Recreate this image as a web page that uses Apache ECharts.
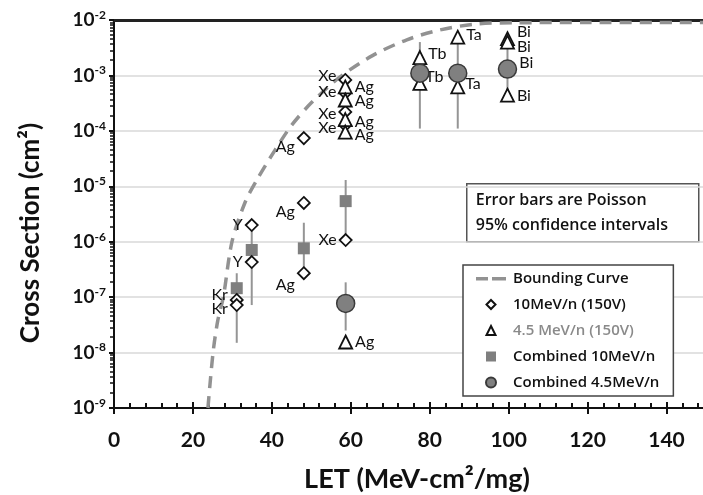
<!DOCTYPE html>
<html>
<head>
<meta charset="utf-8">
<script src="https://cdn.jsdelivr.net/npm/echarts@6/dist/echarts.min.js"></script>
<style>
  html, body { margin: 0; padding: 0; background: #fff; }
  #chart { width: 703px; height: 495px; }
</style>
</head>
<body>
<div id="chart"></div>
<script>
// Weibull-style bounding curve, [LET, cross section]
const boundingCurve = [
  [23.8, 1e-9], [25.1, 1e-8], [26.3, 3.8e-8], [27.7, 1e-7], [29.9, 1e-6],
  [33.2, 5.1e-6], [36.2, 1.3e-5], [40.8, 4.5e-5], [45.0, 1.26e-4], [50.0, 3.2e-4],
  [57.2, 9.3e-4], [65.6, 2.3e-3], [74.2, 4.4e-3], [82.5, 6.6e-3], [91.9, 8.5e-3],
  [102, 8.9e-3], [120, 9.0e-3], [150, 9.0e-3]
];

// 10 MeV/n runs at 150 V: [LET, cross section, ion]
const runs10 = [
  [31.1, 8.9e-8, 'Kr'], [31.1, 7.2e-8, 'Kr'],
  [34.9, 2.0e-6, 'Y'], [34.9, 4.3e-7, 'Y'],
  [48.1, 7.4e-5, 'Ag'], [48.1, 5.0e-6, 'Ag'], [48.1, 2.7e-7, 'Ag'],
  [58.6, 8.3e-4, 'Xe'], [58.6, 4.8e-4, 'Xe'], [58.6, 2.2e-4, 'Xe'], [58.6, 1.26e-4, 'Xe'],
  [58.7, 1.07e-6, 'Xe']
];

// 4.5 MeV/n runs at 150 V: [LET, cross section, ion]
const runs45 = [
  [58.6, 6.2e-4, 'Ag'], [58.6, 3.6e-4, 'Ag'], [58.6, 1.6e-4, 'Ag'], [58.6, 9.5e-5, 'Ag'],
  [58.7, 1.55e-8, 'Ag'],
  [77.5, 2.1e-3, 'Tb'], [77.5, 7.2e-4, 'Tb'],
  [87.1, 4.9e-3, 'Ta'], [87.1, 6.2e-4, 'Ta'],
  [99.7, 4.6e-3, 'Bi'], [99.7, 4.0e-3, 'Bi'], [99.7, 4.4e-4, 'Bi']
];

// Combined results: [LET, cross section, lower 95%, upper 95%]
const combined10 = [
  [31.1, 1.45e-7, 1.5e-8, 2.7e-7],
  [34.9, 7.1e-7, 7.2e-8, 2.0e-6],
  [48.1, 7.6e-7, 3.1e-7, 2.2e-6],
  [58.7, 5.4e-6, 1.2e-6, 1.3e-5]
];
const combined45 = [
  [58.7, 7.7e-8, 2.5e-8, 1.85e-7, ''],
  [77.5, 1.1e-3, 1.1e-4, 4.0e-3, ''],
  [87.1, 1.1e-3, 1.1e-4, 4.9e-3, ''],
  [99.7, 1.3e-3, 3.6e-4, 3.6e-3, 'Bi']
];

const xTicks = [0, 20, 40, 60, 80, 100, 120, 140];
const yExponents = [-9, -8, -7, -6, -5, -4, -3, -2];

const FONT = 'Lato';
const BOX_FONT = 'Open Sans';

// per-point label offsets [dx, dy]
const offs10 = [[0, -5], [0, 4], [0, 0], [0, 0], [0, 9], [0, 9], [0, 12],
                [0, -4], [0, -1], [0, 2], [0, 3], [0, 0]];
const offs45 = [[0, 0], [0, 1], [0, 2], [0, 3], [0, 0], [-1, -4], [-4, -6],
                [-1, -2], [-2, -3], [0, -7], [0, 5], [0, 1]];

function labelled(rows, offs, side) {
  return rows.map((r, i) => ({
    value: [r[0], r[1]],
    label: {
      show: !!r[r.length - 1], formatter: r[r.length - 1], position: side,
      distance: 2, offset: offs[i],
      fontFamily: FONT, fontSize: 16, color: '#111'
    }
  }));
}

function bars(rows) {
  return rows.map(r => [r[0], r[2], r[3]]);
}

const errorBar = {
  type: 'custom',
  renderItem: (params, api) => {
    const p1 = api.coord([api.value(0), api.value(2)]);
    const p2 = api.coord([api.value(0), api.value(1)]);
    return {
      type: 'line',
      shape: { x1: p1[0], y1: p1[1], x2: p2[0], y2: p2[1] },
      style: { stroke: '#959595', lineWidth: 2 }
    };
  },
  encode: { x: 0, y: [1, 2] },
  z: 1,
  silent: true
};

// legend glyphs: the leading moves pin every icon to a 34x12 box
const BOX = 'M0,0M34,12';
const legendIcons = {
  curve: 'path://' + BOX + 'M2,4.5h12v3.5h-12zM18,4.5h14v3.5h-14z',
  diamond: 'path://' + BOX + 'M17,1.5L21.5,6L17,10.5L12.5,6Z',
  triangle: 'path://' + BOX + 'M17,1.5L21.5,10.5L12.5,10.5Z',
  square: 'path://' + BOX + 'M12,1h10v10h-10z',
  circle: 'path://' + BOX + 'M12,6a5,5 0 1,0 10,0a5,5 0 1,0 -10,0Z'
};

const chart = echarts.init(document.getElementById('chart'), null, { renderer: 'canvas' });

const axisFont = { fontFamily: FONT, fontWeight: 'bold', color: '#111' };

chart.setOption({
  animation: false,
  textStyle: { fontFamily: FONT },
  grid: { left: 114, right: -3, top: 20, bottom: 87, containLabel: false, outerBoundsMode: 'none' },
  xAxis: [
    {
      type: 'value', min: 0, max: 150, interval: 20, position: 'bottom',
      name: 'LET (MeV-cm²/mg)', nameLocation: 'middle', nameGap: 58,
      nameTextStyle: Object.assign({ fontSize: 27, padding: [0, 0, 0, 14] }, axisFont),
      axisLine: { show: true, lineStyle: { color: '#111', width: 2 } },
      axisTick: { show: true, inside: true, length: 6, lineStyle: { color: '#111', width: 2 } },
      minorTick: { show: true, splitNumber: 5, length: 5, lineStyle: { color: '#111', width: 2 } },
      axisLabel: {
        fontSize: 21, margin: 22, color: '#111', fontFamily: FONT, fontWeight: 'bold',
        formatter: v => (xTicks.indexOf(v) >= 0 ? String(v) : '')
      },
      splitLine: { show: false }
    },
    {
      type: 'value', min: 0, max: 150, interval: 20, position: 'bottom',
      axisLine: { show: false },
      axisTick: { show: true, inside: false, length: 6, lineStyle: { color: '#111', width: 2 } },
      axisLabel: { show: false }, splitLine: { show: false }
    },
    {
      type: 'value', min: 0, max: 150, position: 'top',
      axisLine: { show: true, lineStyle: { color: '#222', width: 3 } },
      axisTick: { show: false }, axisLabel: { show: false }, splitLine: { show: false }
    }
  ],
  yAxis: [
    {
      type: 'log', logBase: 10, min: 1e-9, max: 1e-2, interval: 1,
      name: 'Cross Section (cm²)', nameLocation: 'middle', nameGap: 70,
      nameTextStyle: Object.assign({ fontSize: 26, padding: [0, 38, 0, 0] }, axisFont),
      axisLine: { show: true, lineStyle: { color: '#111', width: 2 } },
      axisTick: { show: true, inside: false, length: 5, lineStyle: { color: '#111', width: 2 } },
      axisLabel: {
        margin: 8,
        formatter: v => {
          const e = Math.round(Math.log10(v));
          return yExponents.indexOf(e) >= 0 ? '{b|10}{s|' + e + '}' : '';
        },
        rich: {
          b: { fontSize: 19, fontFamily: FONT, fontWeight: 'bold', color: '#111' },
          s: { fontSize: 12, fontFamily: FONT, fontWeight: 'bold', color: '#111', padding: [0, 0, 10, 0] }
        }
      },
      splitLine: { show: true, lineStyle: { color: '#d9d9d9', width: 1.5 } }
    },
    {
      type: 'log', logBase: 10, min: 1e-9, max: 1e-2, interval: 1,
      axisLine: { show: false },
      axisTick: { show: true, inside: true, length: 5, lineStyle: { color: '#111', width: 2 } },
      minorTick: { show: true, splitNumber: 10, length: 4, lineStyle: { color: '#111', width: 1.5 } },
      axisLabel: { show: false }, splitLine: { show: false }
    }
  ],
  legend: {
    orient: 'vertical', left: 463, top: 265,
    backgroundColor: '#fff', borderColor: '#444', borderWidth: 1.5,
    padding: [6, 14, 6, 10], itemGap: 11, itemWidth: 34, itemHeight: 12,
    textStyle: { fontFamily: BOX_FONT, fontSize: 15, fontWeight: 600, color: '#111' },
    data: [
      { name: 'Bounding Curve', icon: legendIcons.curve },
      { name: '10MeV/n (150V)', icon: legendIcons.diamond },
      { name: '4.5 MeV/n (150V)', icon: legendIcons.triangle, textStyle: { color: '#8a8a8a' } },
      { name: 'Combined 10MeV/n', icon: legendIcons.square },
      { name: 'Combined 4.5MeV/n', icon: legendIcons.circle }
    ]
  },
  graphic: [
    {
      type: 'group', left: 466, top: 183, z: 100,
      children: [
        { type: 'rect', shape: { x: 0, y: 0, width: 232, height: 58 },
          style: { fill: '#fff', stroke: '#555', lineWidth: 1.5 } },
        { type: 'text', x: 9, y: 9,
          style: { text: 'Error bars are Poisson', font: '600 16px "Open Sans"', fill: '#111' } },
        { type: 'text', x: 9, y: 34,
          style: { text: '95% confidence intervals', font: '600 16px "Open Sans"', fill: '#111' } }
      ]
    }
  ],
  series: [
    Object.assign({ name: 'errA', data: bars(combined10) }, errorBar),
    Object.assign({ name: 'errB', data: bars(combined45) }, errorBar),
    {
      name: 'Bounding Curve', type: 'line', smooth: 0.3, symbol: 'none',
      data: boundingCurve, z: 2,
      lineStyle: { color: '#929292', width: 3.5, type: [12, 8] },
      itemStyle: { color: '#929292' }
    },
    {
      name: 'Combined 10MeV/n', type: 'scatter', symbol: 'rect', symbolSize: 12, z: 3,
      data: combined10.map(r => [r[0], r[1]]),
      itemStyle: { color: '#7f7f7f', opacity: 1 }
    },
    {
      name: '10MeV/n (150V)', type: 'scatter', symbol: 'diamond', symbolSize: 12, z: 4,
      data: labelled(runs10, offs10, 'left'),
      itemStyle: { color: '#fff', borderColor: '#111', borderWidth: 1.8, opacity: 1 }
    },
    {
      name: '4.5 MeV/n (150V)', type: 'scatter', symbol: 'triangle', symbolSize: 13, z: 5,
      data: labelled(runs45, offs45, 'right'),
      itemStyle: { color: '#fff', borderColor: '#111', borderWidth: 1.8, opacity: 1 }
    },
    {
      name: 'Combined 4.5MeV/n', type: 'scatter', symbol: 'circle', symbolSize: 18, z: 6,
      data: labelled(combined45, [[0, 0], [0, 0], [0, 0], [0, -6]], 'right'),
      itemStyle: { color: '#808080', borderColor: '#3a3a3a', borderWidth: 1.5, opacity: 1 }
    }
  ]
});
</script>
</body>
</html>
